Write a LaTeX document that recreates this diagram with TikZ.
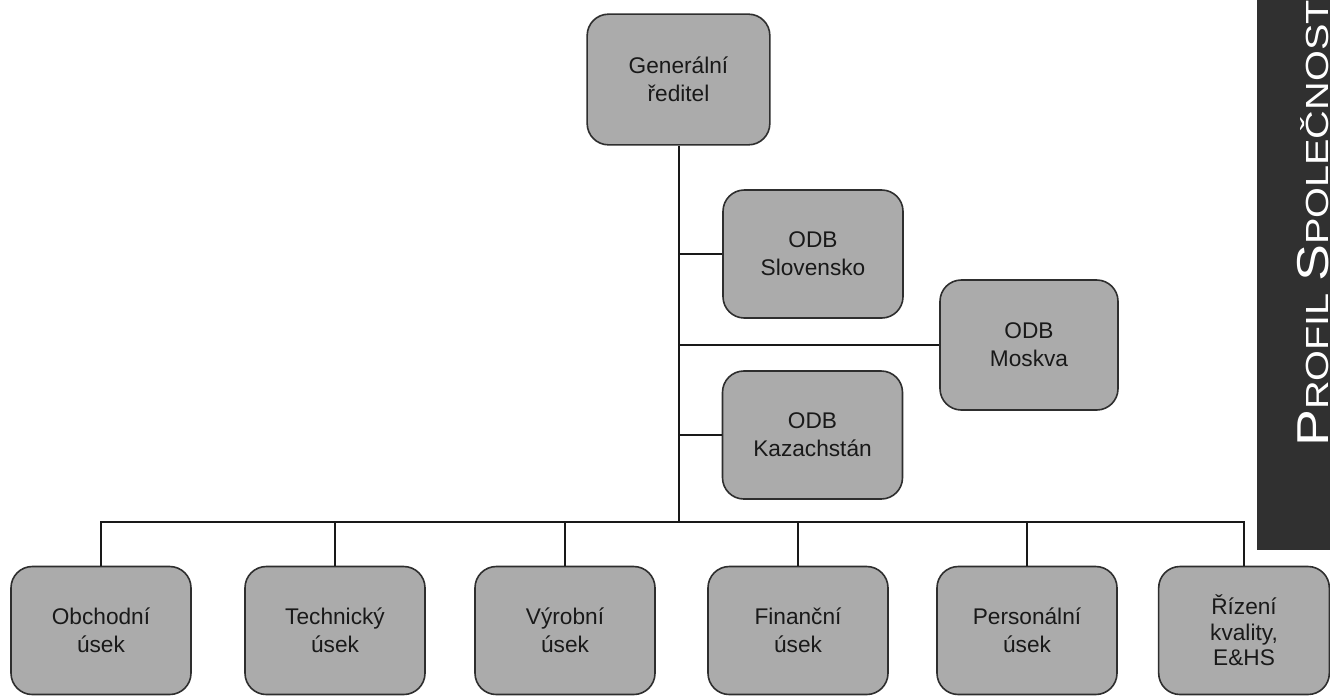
\documentclass[tikz,border=0pt]{standalone}
\usepackage{fontspec}
\setmainfont{Liberation Sans}
\usepackage{graphicx}
\definecolor{boxfill}{HTML}{ABABAB}
\definecolor{boxline}{HTML}{2E2E2E}
\definecolor{band}{HTML}{303030}
\begin{document}
\begin{tikzpicture}[x=0.75pt,y=-0.75pt,
  unit/.style={draw=boxline, fill=boxfill, line width=1.2pt, rounded corners=16pt,
    align=center, inner sep=2pt, text=black!90,
    font=\fontsize{17}{21}\selectfont},
  std/.style={unit, minimum width=135pt, minimum height=96pt},
  link/.style={draw=black!90, line width=1.5pt}]
\clip (0,0) rectangle (1330,697);
\fill[white] (0,0) rectangle (1330,697);
% side band
\fill[band] (1257,0) rectangle (1330,550);
\node[rotate=90, anchor=base west, text=white, inner sep=0pt] (bandtext) at (1328,447)
  {\scalebox{1.24}[1]{\fontsize{33.5}{33.5}\selectfont P\fontsize{24}{24}\selectfont ROFIL \fontsize{33.5}{33.5}\selectfont S\fontsize{24}{24}\selectfont POLEČNOSTI}};
% nodes
\node[unit, minimum width=137pt, minimum height=98pt] (gen) at (678.5,79.5) {Generální\\ředitel};
\node[std] (slov) at (813,254) {ODB\\Slovensko};
\node[std, minimum width=133.5pt, minimum height=97.5pt] (mosk) at (1029,345) {ODB\\Moskva};
\node[std] (kaz) at (812.5,435) {ODB\\Kazachstán};
\node[std] (obch) at (101,630.5) {Obchodní\\úsek};
\node[std] (tech) at (335,630.5) {Technický\\úsek};
\node[std] (vyr) at (565,630.5) {Výrobní\\úsek};
\node[std] (fin) at (798,630.5) {Finanční\\úsek};
\node[std] (pers) at (1027,630.5) {Personální\\úsek};
\node[unit, minimum width=128pt, minimum height=96pt, font=\fontsize{17}{19}\selectfont] (riz) at (1244,630.5) {Řízení\\kvality,\\E\&HS};
\coordinate (bus) at (678.5,522);
% connectors
\draw[link] (gen.south) -- (bus);
\draw[link] (slov.west) -- (slov.west -| bus);
\draw[link] (mosk.west) -- (mosk.west -| bus);
\draw[link] (kaz.west) -- (kaz.west -| bus);
\draw[link] (obch.north) |- (bus) -| (riz.north);
\draw[link] (tech.north) -- (tech.north |- bus);
\draw[link] (vyr.north) -- (vyr.north |- bus);
\draw[link] (fin.north) -- (fin.north |- bus);
\draw[link] (pers.north) -- (pers.north |- bus);
\end{tikzpicture}
\end{document}
